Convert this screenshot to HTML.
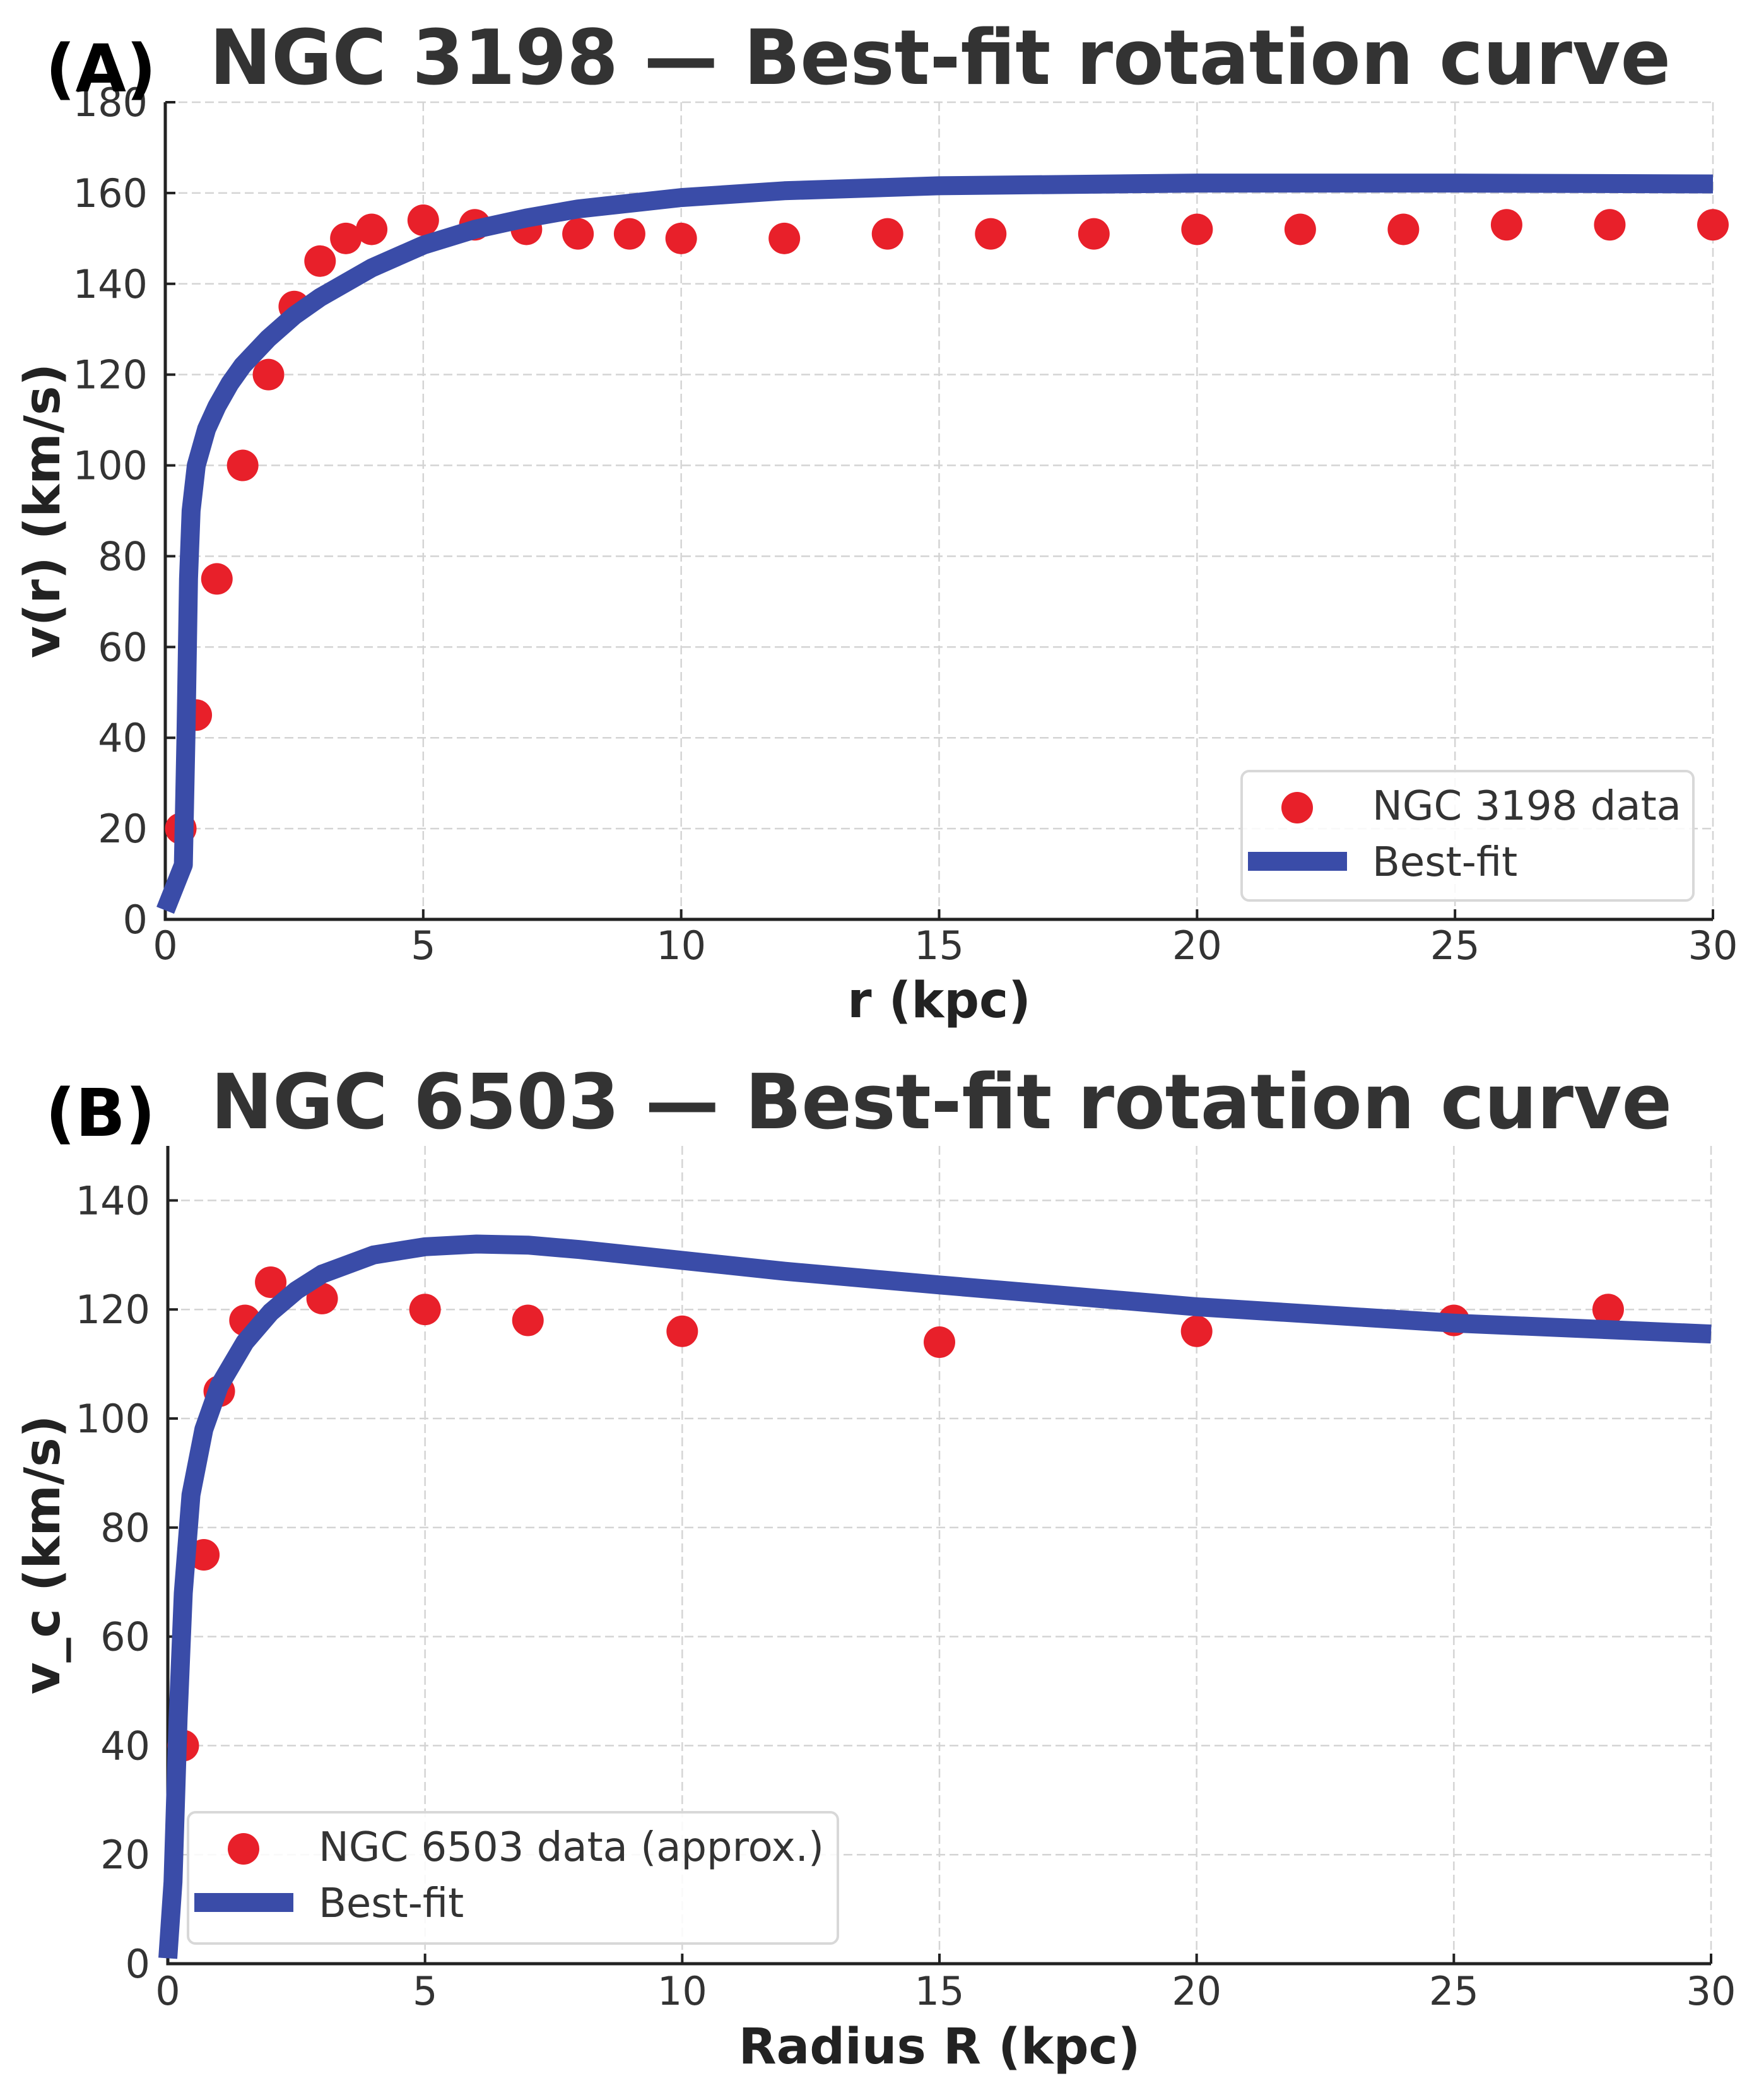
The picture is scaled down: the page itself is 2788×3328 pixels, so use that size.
<!DOCTYPE html>
<html><head><meta charset="utf-8"><style>
html,body{margin:0;padding:0;background:#fff;}
svg{display:block;font-family:"DejaVu Sans","Liberation Sans",sans-serif;}
</style></head><body>
<svg id="fig" width="2788" height="3328" viewBox="0 0 2788 3328" xmlns="http://www.w3.org/2000/svg">
<rect width="2788" height="3328" fill="#fff"/>
<g id="panelA"></g>
<g id="panelB"></g>
</svg>
<script>
// Panel A data
const aDataR = [0.3,0.6,1,1.5,2,2.5,3,3.5,4,5,6,7,8,9,10,12,14,16,18,20,22,24,26,28,30];
const aDataV = [20,45,75,100,120,135,145,150,152,154,153,152,151,151,150,150,151,151,151,152,152,152,153,153,153];
const aFitR = [0,0.35,0.4,0.45,0.5,0.6,0.8,1,1.25,1.5,2,2.5,3,4,5,6,7,8,10,12,15,20,25,30];
const aFitV = [2,12,40,75,90,100,108,113,118,122,128,133,137,143.5,148.5,152,154.5,156.5,159,160.5,161.6,162.2,162.2,162];
const aXTicks = [0,5,10,15,20,25,30];
const aYTicks = [0,20,40,60,80,100,120,140,160,180];
// Panel B data
const bDataR = [0.3,0.7,1,1.5,2,3,5,7,10,15,20,25,28];
const bDataV = [40,75,105,118,125,122,120,118,116,114,116,118,120];
const bFitR = [0,0.1,0.2,0.3,0.45,0.7,1,1.5,2,2.5,3,4,5,6,7,8,10,12,15,20,25,30];
const bFitV = [1,15,45,68,86,98,106,114,119.5,123.5,126.5,130,131.5,132,131.8,131,129,127,124.5,120.5,117.5,115.5];
const bXTicks = [0,5,10,15,20,25,30];
const bYTicks = [0,20,40,60,80,100,120,140];

const NS='http://www.w3.org/2000/svg';
function mk(tag, attrs, parent, text){
  const e=document.createElementNS(NS,tag);
  for(const k in attrs) e.setAttribute(k,attrs[k]);
  if(text!==undefined) e.textContent=text;
  parent.appendChild(e); return e;
}
function panel(g, cfg){
  const sx=v=>cfg.x0+(v-0)/(30-0)*(cfg.x1-cfg.x0);
  const sy=v=>cfg.y0-(v-0)/(cfg.ymax)*(cfg.y0-cfg.y1);
  cfg.xt.forEach(t=>{
    const l=mk('line',{x1:sx(t),x2:sx(t),y1:cfg.y1,y2:cfg.y0,stroke:'#d4d4d4','stroke-width':2.5,'stroke-dasharray':'14,7'},g);
    
    
  });
  cfg.yt.forEach(t=>{
    const l=mk('line',{x1:cfg.x0,x2:cfg.x1,y1:sy(t),y2:sy(t),stroke:'#d4d4d4','stroke-width':2.5,'stroke-dasharray':'14,7'},g);
    
    
  });
  const ax=mk('path',{d:`M${cfg.x0},${cfg.y1}V${cfg.y0}H${cfg.x1}`,fill:'none',stroke:'#222','stroke-width':5},g);
  
  
  cfg.xt.forEach(t=>{
    const tk=mk('line',{x1:sx(t),x2:sx(t),y1:cfg.y0,y2:cfg.y0-16,stroke:'#222','stroke-width':4},g);
    
    
    const tl=mk('text',{x:sx(t),y:cfg.y0+cfg.xlabOff,'font-size':62,fill:'#333','text-anchor':'middle'},g,String(t));
    
    
  });
  cfg.yt.forEach(t=>{
    const tk=mk('line',{x1:cfg.x0,x2:cfg.x0+16,y1:sy(t),y2:sy(t),stroke:'#222','stroke-width':4},g);
    
    
    const tl=mk('text',{x:cfg.x0-28,y:sy(t)+22,'font-size':62,fill:'#333','text-anchor':'end'},g,String(t));
    
    
  });
  const d=cfg.fr.map((r,i)=>(i?'L':'M')+sx(r).toFixed(1)+','+sy(cfg.fv[i]).toFixed(1)).join('');
  cfg.dr.forEach((r,i)=>{
    const c=mk('circle',{cx:sx(r),cy:sy(cfg.dv[i]),r:25,fill:'#e8202a'},g);
    
    
  });
  const fl=mk('path',{d:d,fill:'none',stroke:'#3a4ca8','stroke-width':30,'stroke-linejoin':'round'},g);
  
  
  const pl=mk('text',{x:72,y:cfg.panelY,'font-size':104,'font-weight':'bold',fill:'#000'},g,cfg.panel);
  
  
  const ti=mk('text',{x:cfg.tx0,y:cfg.titleY,'font-size':120,'font-weight':'bold',fill:'#333',textLength:cfg.tx1-cfg.tx0,lengthAdjust:'spacingAndGlyphs'},g,cfg.title);
  
  
  const xl=mk('text',{x:(cfg.x0+cfg.x1)/2,y:cfg.xtitleY,'font-size':78,'font-weight':'bold',fill:'#222','text-anchor':'middle'},g,cfg.xlabel);
  
  
  const yc=(cfg.y0+cfg.y1)/2;
  const yl=mk('text',{x:0,y:0,'font-size':78,'font-weight':'bold',fill:'#222','text-anchor':'middle',transform:`translate(94,${yc}) rotate(-90)`},g,cfg.ylabel);
  
  
  const L=cfg.leg;
  const lg=mk('g',{},g);
  
  
  mk('rect',{x:L.x,y:L.y,width:L.w,height:L.h,rx:12,fill:'#fff','fill-opacity':0.85,stroke:'#d8d8d8','stroke-width':4},lg);
  const lm=mk('circle',{cx:L.x+88,cy:L.y+58,r:25,fill:'#e8202a'},lg);
  
  
  const lt1=mk('text',{x:L.x+207,y:L.y+77,'font-size':64,fill:'#333'},lg,cfg.legText);
  
  
  const ll=mk('line',{x1:L.x+10,x2:L.x+167,y1:L.y+143,y2:L.y+143,stroke:'#3a4ca8','stroke-width':30},lg);
  
  
  const lt2=mk('text',{x:L.x+207,y:L.y+166,'font-size':64,fill:'#333'},lg,'Best-fit');
  
  
}
panel(document.getElementById('panelA'),{x0:262,x1:2715,y0:1457,y1:162,ymax:180,xt:aXTicks,yt:aYTicks,
  dr:aDataR,dv:aDataV,fr:aFitR,fv:aFitV,xlabOff:63,panel:'(A)',panelY:145,title:'NGC 3198 — Best-fit rotation curve',
  tx0:332,tx1:2648,titleY:133,xlabel:'r (kpc)',xtitleY:1612,ylabel:'v(r) (km/s)',
  leg:{x:1968,y:1222,w:716,h:205},legText:'NGC 3198 data'});
panel(document.getElementById('panelB'),{x0:266,x1:2712,y0:3112,y1:1816,ymax:150,xt:bXTicks,yt:bYTicks,
  dr:bDataR,dv:bDataV,fr:bFitR,fv:bFitV,xlabOff:65,panel:'(B)',panelY:1800,title:'NGC 6503 — Best-fit rotation curve',
  tx0:334,tx1:2650,titleY:1788,xlabel:'Radius R (kpc)',xtitleY:3270,ylabel:'v_c (km/s)',
  leg:{x:298,y:2872,w:1030,h:208},legText:'NGC 6503 data (approx.)'});
</script>
</body></html>
